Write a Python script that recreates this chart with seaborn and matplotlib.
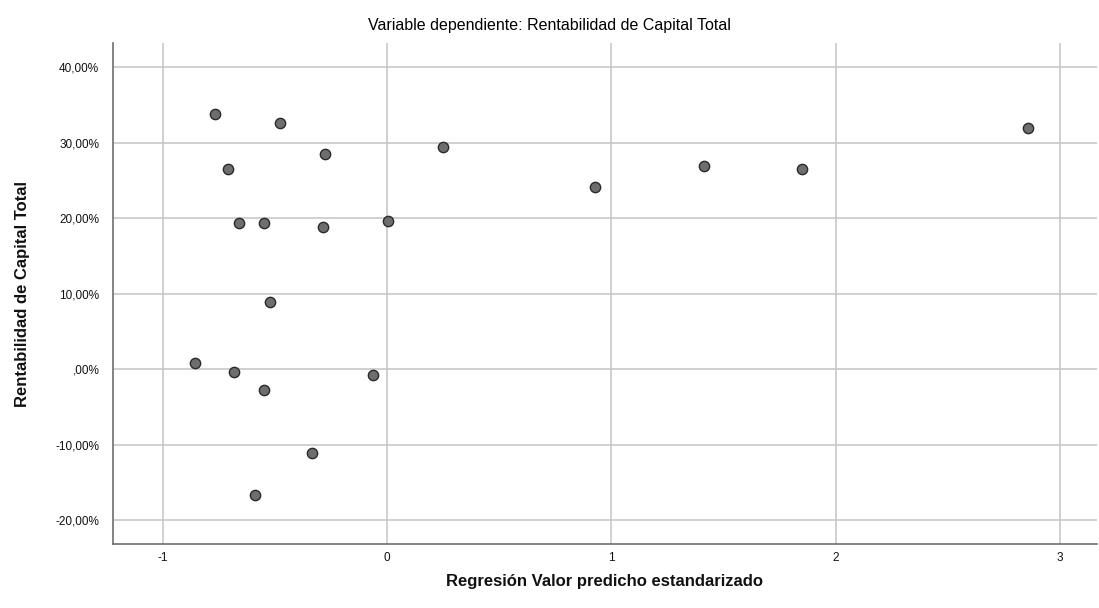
import matplotlib
matplotlib.use("Agg")
import matplotlib.pyplot as plt
import pandas as pd
import seaborn as sns

# standardized predicted value vs. observed return (%)
pred_std = [-0.767, -0.477, -0.709, -0.276, 0.250, -0.660, -0.548, -0.285, 0.004,
            0.927, 1.413, 1.850, 2.858, -0.522, -0.856, -0.682, -0.548, -0.062,
            -0.334, -0.589]
rentab = [33.8, 32.6, 26.5, 28.5, 29.5, 19.3, 19.3, 18.8, 19.6,
          24.1, 26.9, 26.5, 31.9, 8.9, 0.8, -0.4, -2.8, -0.8,
          -11.1, -16.7]

x_ticks = [-1, 0, 1, 2, 3]
y_ticks = [-20, -10, 0, 10, 20, 30, 40]
y_ticklabels = ["-20,00%", "-10,00%", ",00%", "10,00%", "20,00%", "30,00%", "40,00%"]


def main():
    df = pd.DataFrame({"pred": pred_std, "rent": rentab})

    sns.set_style("white")
    plt.rcParams["font.family"] = ["Liberation Sans", "DejaVu Sans"]
    plt.rcParams["axes.unicode_minus"] = False

    fig = plt.figure(figsize=(10.99, 6.08), dpi=100)
    ax = fig.add_axes([0.103, 0.105, 0.895, 0.824])

    ax.grid(True, color="#c8c8c8", linewidth=1.2)
    ax.set_axisbelow(True)

    sns.scatterplot(data=df, x="pred", y="rent", ax=ax, s=55,
                    color="#6e6e6e", edgecolor="#2a2a2a", linewidth=1.0, zorder=3)

    ax.set_xlim(-1.222, 3.165)
    ax.set_ylim(-23.2, 43.2)
    ax.set_xticks(x_ticks)
    ax.set_yticks(y_ticks)
    ax.set_yticklabels(y_ticklabels)
    ax.tick_params(axis="y", labelsize=8.5, colors="#111111", length=0, pad=10)
    ax.tick_params(axis="x", labelsize=8.5, colors="#111111", length=0, pad=6)

    for side in ["top", "right"]:
        ax.spines[side].set_visible(False)
    for side in ["left", "bottom"]:
        ax.spines[side].set_color("#6e6e6e")
        ax.spines[side].set_linewidth(1.2)

    ax.set_xlabel("Regresión Valor predicho estandarizado", fontsize=12,
                  fontweight="bold", labelpad=7, color="#111111")
    ax.set_ylabel("Rentabilidad de Capital Total", fontsize=12,
                  fontweight="bold", labelpad=18, color="#111111")
    fig.text(0.5, 0.958, "Variable dependiente: Rentabilidad de Capital Total",
             ha="center", va="center", fontsize=11.5, color="black")

    fig.savefig("out.png", dpi=100)


if __name__ == "__main__":
    main()
